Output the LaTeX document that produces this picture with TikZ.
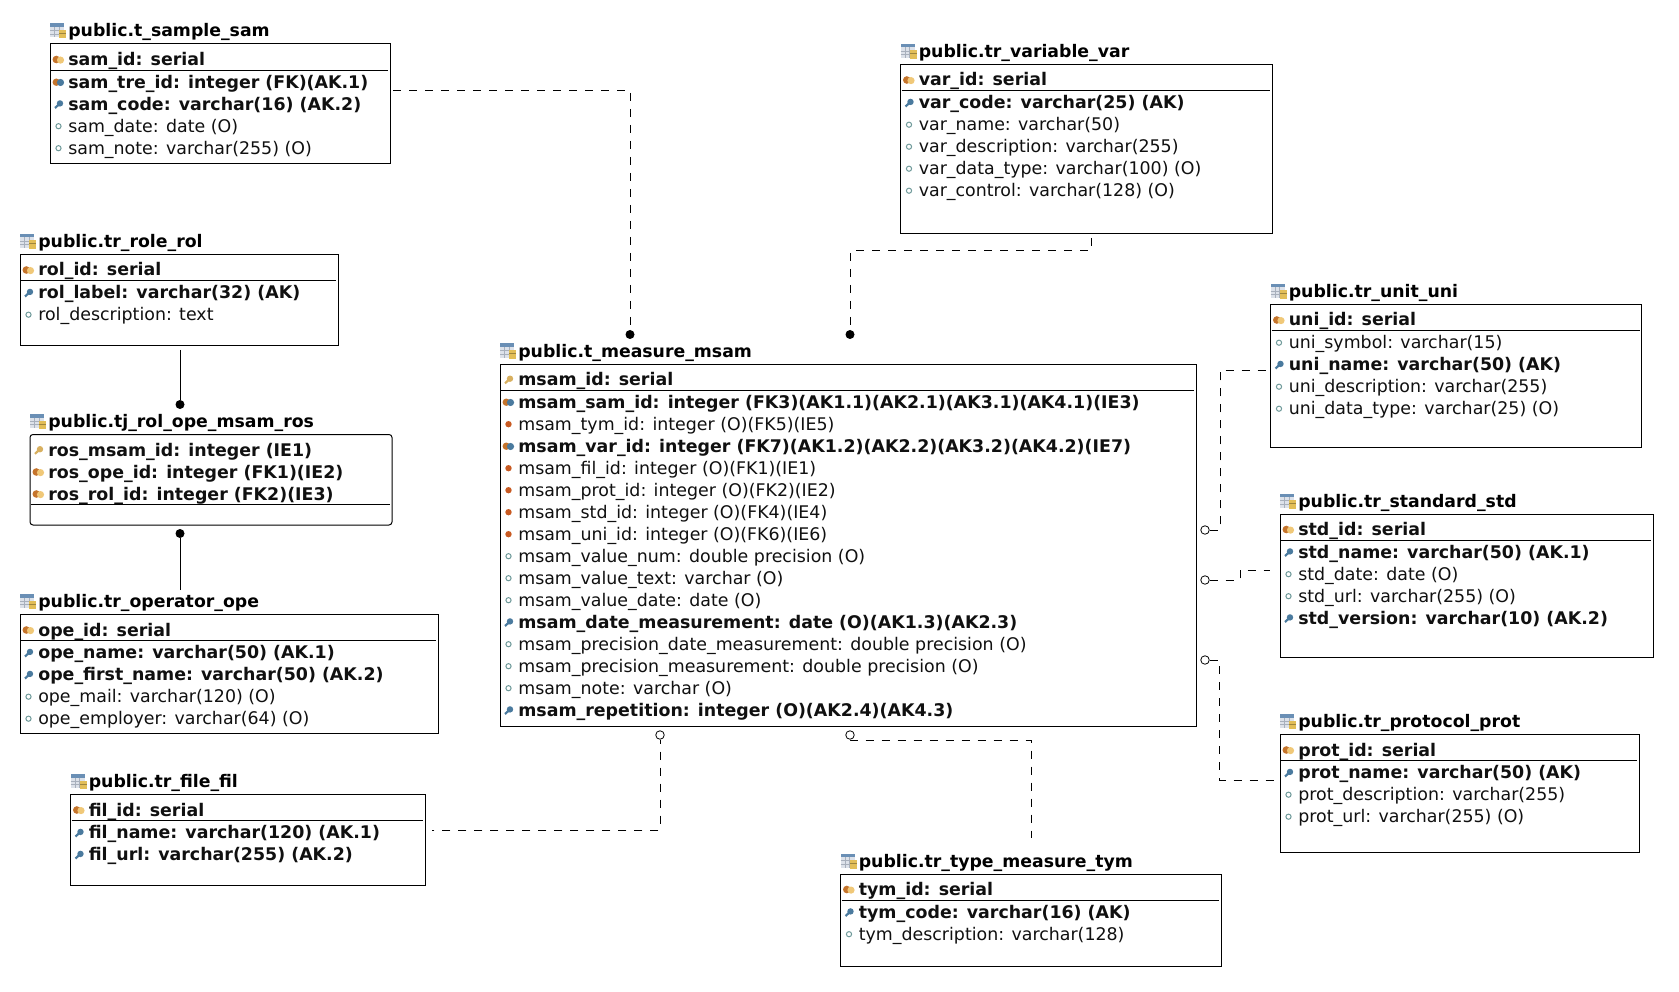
\documentclass[tikz,border=0pt]{standalone}
\usepackage{fontspec}
\setmainfont{DejaVu Sans}
\newcounter{rowno}
\definecolor{txt}{HTML}{101010}
\definecolor{keyorange}{HTML}{C5742C}
\definecolor{keypale}{HTML}{F0C878}
\definecolor{keyblue}{HTML}{4A7A9E}
\definecolor{keygold}{HTML}{D8B060}
\definecolor{optring}{HTML}{6F9A9A}
\definecolor{fkdot}{HTML}{C85A22}
\definecolor{ichead}{HTML}{6A8FB5}
\definecolor{icbody}{HTML}{DDE2EA}
\definecolor{icgrid}{HTML}{A8B0BC}
\definecolor{iccyl}{HTML}{E2BE58}
\tikzset{
 tablebox/.style={draw=black,line width=1pt,fill=white,inner sep=0pt,outer sep=0pt,anchor=north west},
 rowtext/.style={anchor=base west,inner sep=0pt,outer sep=0pt,font=\fontsize{17.4}{20}\selectfont,text=txt},
 boldrow/.style={font=\fontsize{17.4}{20}\selectfont\bfseries},
 titletext/.style={anchor=base west,inner sep=0pt,outer sep=0pt,font=\fontsize{17.3}{20}\selectfont\bfseries,text=black},
 rel/.style={line width=0.9pt,dash pattern=on 8pt off 8pt,draw=black},
 relsolid/.style={line width=0.9pt,draw=black},
 enddot/.style={circle,fill=black,inner sep=0pt,minimum size=9pt},
 endring/.style={circle,draw=black,line width=0.8pt,fill=white,inner sep=0pt,minimum size=8.5pt},
 tablerule/.style={line width=0.9pt,draw=black}
}
\newcommand\tabicon[2]{%
 \fill[icbody] (#1,#2) rectangle +(14,14);
 \fill[ichead] (#1,#2) rectangle +(14,3.5);
 \foreach \q in {4.5,9}{\draw[icgrid,line width=.5pt] (#1+\q,#2+3.5) -- +(0,10.5);}
 \foreach \q in {7,10.5}{\draw[icgrid,line width=.5pt] (#1,#2+\q) -- +(14,0);}
 \fill[iccyl] (#1+9,#2+6.5) rectangle +(7,8.5);
 \fill[iccyl!70!black] (#1+9,#2+9.5) rectangle +(7,.8);
}
\newcommand\icPK[2]{\fill[keyorange] (#1-2.2,#2) circle (3.8);\fill[keypale] (#1+2,#2+.6) circle (3.6);}
\newcommand\icFA[2]{\fill[keyorange] (#1-2.2,#2) circle (3.7);\fill[keyblue] (#1+2,#2+.3) circle (3.6);}
\newcommand\icAK[2]{\fill[keyblue] (#1+1.5,#2-.8) circle (3.2);\draw[keyblue,line width=2.2pt] (#1+1,#2-.3) -- (#1-3.5,#2+3.8);}
\newcommand\icKY[2]{\fill[keygold] (#1+1.5,#2-.8) circle (3.2);\draw[keygold,line width=2.2pt] (#1+1,#2-.3) -- (#1-3.5,#2+3.8);}
\newcommand\icOP[2]{\draw[optring,line width=1pt,fill=white] (#1,#2) circle (2.6);}
\newcommand\icFK[2]{\fill[fkdot] (#1,#2) circle (3.2);}
% name, x, y, w, h, title, rounded
\newcommand\tb[7][]{%
 \def\tn{#2}\def\tx{#3}\def\ty{#4}\def\tw{#5}%
 \setcounter{rowno}{0}%
 \node[tablebox,#1,minimum width=#5pt,minimum height=#6pt] (#2) at (#3,#4) {};
 \pgfmathsetmacro\myti{#3}\pgfmathsetmacro\mytj{#4-20.5}%
 \tabicon{\myti}{\mytj}
 \pgfmathsetmacro\mytp{#3+18.3}\pgfmathsetmacro\mytq{#4-7}%
 \node[titletext] (#2-title) at (\mytp,\mytq) {#7};
 \pgfmathsetmacro\cy{#4+21.5}%
}
\newcommand\rw[3]{%
 \stepcounter{rowno}%
 \pgfmathsetmacro\mytp{\tx+18.3}\pgfmathsetmacro\myix{\tx+8.5}\pgfmathsetmacro\myiy{\cy-6}%
 \csname ic#1\endcsname{\myix}{\myiy}
 \node[rowtext,#2] (\tn-r\arabic{rowno}) at (\mytp,\cy) {#3};
 \pgfmathsetmacro\cy{\cy+22}%
}
\newcommand\sepr{%
 \pgfmathsetmacro\mysy{\cy-17.5}\pgfmathsetmacro\mysa{\tx+1}\pgfmathsetmacro\mysb{\tx+\tw-2}%
 \draw[tablerule] (\mysa,\mysy) -- (\mysb,\mysy);
 \pgfmathsetmacro\cy{\cy+0.7}%
}
\begin{document}
\begin{tikzpicture}[x=1pt,y=-1pt]
\useasboundingbox[fill=white] (0,0) rectangle (1679,992);

\tb{sample}{50}{44}{340}{120}{public.t\_sample\_sam}
\rw{PK}{boldrow}{sam\_id: serial}\sepr
\rw{FA}{boldrow}{sam\_tre\_id: integer (FK)(AK.1)}
\rw{AK}{boldrow}{sam\_code: varchar(16) (AK.2)}
\rw{OP}{}{sam\_date: date (O)}
\rw{OP}{}{sam\_note: varchar(255) (O)}

\tb{variable}{900.5}{64.5}{371.5}{169}{public.tr\_variable\_var}
\rw{PK}{boldrow}{var\_id: serial}\sepr
\rw{AK}{boldrow}{var\_code: varchar(25) (AK)}
\rw{OP}{}{var\_name: varchar(50)}
\rw{OP}{}{var\_description: varchar(255)}
\rw{OP}{}{var\_data\_type: varchar(100) (O)}
\rw{OP}{}{var\_control: varchar(128) (O)}

\tb{role}{20}{254.5}{318}{91.5}{public.tr\_role\_rol}
\rw{PK}{boldrow}{rol\_id: serial}\sepr
\rw{AK}{boldrow}{rol\_label: varchar(32) (AK)}
\rw{OP}{}{rol\_description: text}

\tb[rounded corners=3pt]{rolope}{30}{434.5}{362}{90.5}{public.tj\_rol\_ope\_msam\_ros}
\rw{KY}{boldrow}{ros\_msam\_id: integer (IE1)}
\rw{PK}{boldrow}{ros\_ope\_id: integer (FK1)(IE2)}
\rw{PK}{boldrow}{ros\_rol\_id: integer (FK2)(IE3)}\sepr

\tb{operator}{20}{614.5}{418}{119}{public.tr\_operator\_ope}
\rw{PK}{boldrow}{ope\_id: serial}\sepr
\rw{AK}{boldrow}{ope\_name: varchar(50) (AK.1)}
\rw{AK}{boldrow}{ope\_first\_name: varchar(50) (AK.2)}
\rw{OP}{}{ope\_mail: varchar(120) (O)}
\rw{OP}{}{ope\_employer: varchar(64) (O)}

\tb{file}{70.5}{794.5}{354.5}{91}{public.tr\_file\_fil}
\rw{PK}{boldrow}{fil\_id: serial}\sepr
\rw{AK}{boldrow}{fil\_name: varchar(120) (AK.1)}
\rw{AK}{boldrow}{fil\_url: varchar(255) (AK.2)}

\tb{measure}{500}{364}{696}{362}{public.t\_measure\_msam}
\rw{KY}{boldrow}{msam\_id: serial}\sepr
\rw{FA}{boldrow}{msam\_sam\_id: integer (FK3)(AK1.1)(AK2.1)(AK3.1)(AK4.1)(IE3)}
\rw{FK}{}{msam\_tym\_id: integer (O)(FK5)(IE5)}
\rw{FA}{boldrow}{msam\_var\_id: integer (FK7)(AK1.2)(AK2.2)(AK3.2)(AK4.2)(IE7)}
\rw{FK}{}{msam\_fil\_id: integer (O)(FK1)(IE1)}
\rw{FK}{}{msam\_prot\_id: integer (O)(FK2)(IE2)}
\rw{FK}{}{msam\_std\_id: integer (O)(FK4)(IE4)}
\rw{FK}{}{msam\_uni\_id: integer (O)(FK6)(IE6)}
\rw{OP}{}{msam\_value\_num: double precision (O)}
\rw{OP}{}{msam\_value\_text: varchar (O)}
\rw{OP}{}{msam\_value\_date: date (O)}
\rw{AK}{boldrow}{msam\_date\_measurement: date (O)(AK1.3)(AK2.3)}
\rw{OP}{}{msam\_precision\_date\_measurement: double precision (O)}
\rw{OP}{}{msam\_precision\_measurement: double precision (O)}
\rw{OP}{}{msam\_note: varchar (O)}
\rw{AK}{boldrow}{msam\_repetition: integer (O)(AK2.4)(AK4.3)}

\tb{type}{840.5}{874}{380.5}{92}{public.tr\_type\_measure\_tym}
\rw{PK}{boldrow}{tym\_id: serial}\sepr
\rw{AK}{boldrow}{tym\_code: varchar(16) (AK)}
\rw{OP}{}{tym\_description: varchar(128)}

\tb{unit}{1270.5}{304.5}{371}{143}{public.tr\_unit\_uni}
\rw{PK}{boldrow}{uni\_id: serial}\sepr
\rw{OP}{}{uni\_symbol: varchar(15)}
\rw{AK}{boldrow}{uni\_name: varchar(50) (AK)}
\rw{OP}{}{uni\_description: varchar(255)}
\rw{OP}{}{uni\_data\_type: varchar(25) (O)}

\tb{standard}{1280}{514}{373}{143.5}{public.tr\_standard\_std}
\rw{PK}{boldrow}{std\_id: serial}\sepr
\rw{AK}{boldrow}{std\_name: varchar(50) (AK.1)}
\rw{OP}{}{std\_date: date (O)}
\rw{OP}{}{std\_url: varchar(255) (O)}
\rw{AK}{boldrow}{std\_version: varchar(10) (AK.2)}

\tb{protocol}{1280}{734.5}{359}{117.5}{public.tr\_protocol\_prot}
\rw{PK}{boldrow}{prot\_id: serial}\sepr
\rw{AK}{boldrow}{prot\_name: varchar(50) (AK)}
\rw{OP}{}{prot\_description: varchar(255)}
\rw{OP}{}{prot\_url: varchar(255) (O)}

% connector ends
\node[enddot] (dotsample) at (630,334.5) {};
\node[enddot] (dotvar) at (850,334.5) {};
\node[enddot] (dotrole) at (180,404.5) {};
\node[enddot] (dotope) at (180,533.5) {};
\node[endring] (ringuni) at (1205,530) {};
\node[endring] (ringstd) at (1205,580) {};
\node[endring] (ringprot) at (1205,660) {};
\node[endring] (ringfil) at (660,735) {};
\node[endring] (ringtym) at (850,735) {};
\coordinate (psample) at (393,90);
\coordinate (pvar) at (1091,238);
\coordinate (prole) at (180,350);
\coordinate (pope) at (180,590);
\coordinate (puni) at (1266,370);
\coordinate (pstd) at (1270,570);
\coordinate (pprot) at (1274,780);
\coordinate (pfil) at (431.5,830);
\coordinate (ptym) at (1031,838);

\draw[rel] (psample) -| (dotsample);
\draw[rel] (pvar) -- (1091,250.5) -| (dotvar);
\draw[relsolid] (prole) -- (dotrole);
\draw[relsolid] (pope) -- (dotope);
\draw[rel] (ringuni) -- (1220,530) |- (puni);
\draw[rel] (ringstd) -- (1240,580) |- (pstd);
\draw[rel] (ringprot) -- (1219.5,660) |- (pprot);
\draw[rel,dash phase=4pt] (ringfil) |- (pfil);
\draw[rel] (ringtym) -- (850,740) -| (ptym);
\end{tikzpicture}
\end{document}
